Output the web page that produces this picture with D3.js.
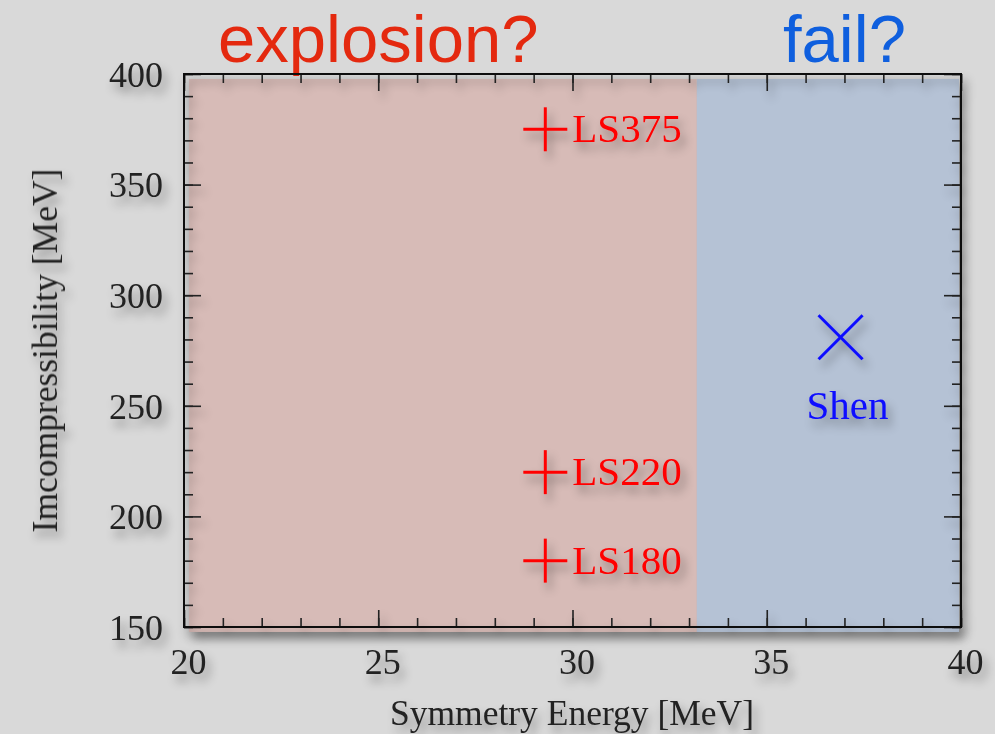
<!DOCTYPE html>
<meta charset="utf-8">
<style>
body { margin: 0; background: #d9d9d9; }
.serif { font-family: "Liberation Serif", "Times New Roman", serif; }
</style>
<svg width="995" height="734"></svg>
<script src="https://cdn.jsdelivr.net/npm/d3@7"></script>
<script>

// data
var xMajor = [20, 25, 30, 35, 40];
var yMajor = [150, 200, 250, 300, 350, 400];
var regionNames = ["explosion?", "fail?"];
var regionFrom = [20, 33.2];
var regionTo = [33.2, 40];
var regionLabelAt = [25, 37];
var lsNames = ["LS375", "LS220", "LS180"];
var lsSym = [29.3, 29.3, 29.3];
var lsK = [375, 220, 180];
var shenNames = ["Shen"];
var shenSym = [36.9];
var shenK = [281];

var regionFill = ["#d7bbb7", "#b5c2d5"];
var regionText = ["#e4290f", "#0f5fde"];

var svg = d3.select("svg");

svg.append("rect")
   .attr("width", "100%")
   .attr("height", "100%")
   .attr("fill", "#d9d9d9");

var defs = svg.append("defs");
defs.append("filter").attr("id", "shadow")
    .attr("x", "-30%").attr("y", "-30%").attr("width", "160%").attr("height", "160%")
  .append("feDropShadow")
    .attr("dx", 4).attr("dy", 7).attr("stdDeviation", 5)
    .attr("flood-color", "#000").attr("flood-opacity", 0.38);

var x = d3.scaleLinear().domain([20, 40]).range([184, 961]);
var y = d3.scaleLinear().domain([150, 400]).range([627, 74]);

// shaded regions
var regions = svg.append("g").attr("filter", "url(#shadow)");
regionNames.forEach(function(n, i) {
  var x0 = x(regionFrom[i]) + (i == 0 ? 5 : 0);
  var x1 = x(regionTo[i]) - (i == regionNames.length - 1 ? 2 : 0);
  regions.append("rect")
    .attr("x", x0)
    .attr("y", y(400) + 5)
    .attr("width", x1 - x0)
    .attr("height", y(150) - y(400))
    .attr("fill", regionFill[i]);
});

// region labels on top
regionNames.forEach(function(n, i) {
  svg.append("text")
    .attr("x", x(regionLabelAt[i]))
    .attr("y", 62)
    .attr("text-anchor", "middle")
    .style("font-family", "'Liberation Sans', Arial, sans-serif")
    .style("font-size", "67px")
    .attr("fill", regionText[i])
    .text(n);
});

// axes: major and minor ticks on all four sides, pointing inward
var axes = svg.append("g").attr("filter", "url(#shadow)");
var xMinor = d3.range(20, 40.001, 1);
var yMinor = d3.range(150, 400.001, 10);

function addAxis(axis, tx, ty) {
  var g = axes.append("g").attr("transform", "translate(" + tx + "," + ty + ")").call(axis);
  g.select(".domain").remove();
  g.selectAll("line").attr("stroke", "#222").attr("stroke-width", 1.6);
  return g;
}

addAxis(d3.axisBottom(x).tickValues(xMinor).tickSize(-9).tickFormat(""), 0, y(150));
addAxis(d3.axisTop(x).tickValues(xMinor).tickSize(-9).tickFormat(""), 0, y(400));
addAxis(d3.axisLeft(y).tickValues(yMinor).tickSize(-9).tickFormat(""), x(20), 0);
addAxis(d3.axisRight(y).tickValues(yMinor).tickSize(-9).tickFormat(""), x(40), 0);

var gx = addAxis(d3.axisBottom(x).tickValues(xMajor).tickSize(-17).tickPadding(29), 0, y(150));
addAxis(d3.axisTop(x).tickValues(xMajor).tickSize(-17).tickFormat(""), 0, y(400));
var gy = addAxis(d3.axisLeft(y).tickValues(yMajor).tickSize(-17).tickPadding(21), x(20), 0);
addAxis(d3.axisRight(y).tickValues(yMajor).tickSize(-17).tickFormat(""), x(40), 0);

gx.selectAll("text").attr("class", "serif").style("font-size", "36px").attr("fill", "#222")
  .attr("dx", 4).attr("dy", "0.5em");
gy.selectAll("text").attr("class", "serif").style("font-size", "36px").attr("fill", "#222")
  .attr("dy", "0.34em");

axes.append("rect")
  .attr("x", x(20)).attr("y", y(400))
  .attr("width", x(40) - x(20)).attr("height", y(150) - y(400))
  .attr("fill", "none").attr("stroke", "#111").attr("stroke-width", 2);

// axis titles
axes.append("text").attr("class", "serif")
  .attr("x", 572).attr("y", 725)
  .attr("text-anchor", "middle")
  .style("font-size", "35.5px").attr("fill", "#222")
  .text("Symmetry Energy [MeV]");

axes.append("text").attr("class", "serif")
  .attr("transform", "translate(57," + ((y(150) + y(400)) / 2) + ") rotate(-90)")
  .attr("text-anchor", "middle")
  .style("font-size", "35.5px").attr("fill", "#222")
  .text("Imcompressibility [MeV]");

// LS points
var marks = svg.append("g").attr("filter", "url(#shadow)");
var arm = 22;
lsNames.forEach(function(n, i) {
  var cx = x(lsSym[i]), cy = y(lsK[i]);
  var g = marks.append("g");
  g.append("line").attr("x1", cx - arm).attr("x2", cx + arm).attr("y1", cy).attr("y2", cy)
    .attr("stroke", "#ff0000").attr("stroke-width", 3);
  g.append("line").attr("x1", cx).attr("x2", cx).attr("y1", cy - arm).attr("y2", cy + arm)
    .attr("stroke", "#ff0000").attr("stroke-width", 3);
  g.append("text").attr("class", "serif")
    .attr("x", cx + 27).attr("y", cy + 13)
    .style("font-size", "41px").attr("fill", "#ff0000")
    .text(n);
});

// Shen point
shenNames.forEach(function(n, i) {
  var cx = x(shenSym[i]), cy = y(shenK[i]);
  var g = marks.append("g");
  g.append("line").attr("x1", cx - arm).attr("x2", cx + arm).attr("y1", cy - arm).attr("y2", cy + arm)
    .attr("stroke", "#0a0aff").attr("stroke-width", 3);
  g.append("line").attr("x1", cx - arm).attr("x2", cx + arm).attr("y1", cy + arm).attr("y2", cy - arm)
    .attr("stroke", "#0a0aff").attr("stroke-width", 3);
  g.append("text").attr("class", "serif")
    .attr("x", cx + 7).attr("y", cy + 82)
    .attr("text-anchor", "middle")
    .style("font-size", "41px").attr("fill", "#0a0aff")
    .text(n);
});

</script>
